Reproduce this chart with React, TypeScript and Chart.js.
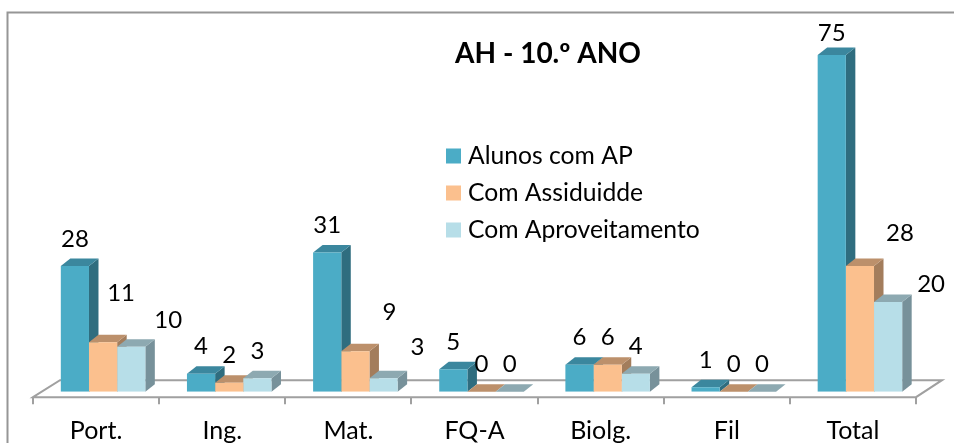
import React, { useEffect, useRef } from "react";
import { Chart, registerables } from "chart.js";

Chart.register(...registerables);

const categories = ["Port.", "Ing.", "Mat.", "FQ-A", "Biolg.", "Fil", "Total"];
const alunosComAP = [28, 4, 31, 5, 6, 1, 75];
const comAssiduidade = [11, 2, 9, 0, 6, 0, 28];
const comAproveitamento = [10, 3, 3, 0, 4, 0, 20];
const seriesNames = ["Alunos com AP", "Com Assiduidde", "Com Aproveitamento"];

const frontColors = ["#4BACC6", "#FBC08E", "#B7DEE8"];
const topColors = ["#3B879E", "#BC906B", "#8DA9B1"];
const sideColors = ["#2F6D7F", "#A37D5C", "#77919A"];

// Hand-placed data label nudges (px, relative to default spot above each bar)
const labelShiftX = [
  [0, 0, 0, 0, 0, 0, 0],
  [18, 0, 34, 0, 0, 0, 40],
  [37, 0, 34, 0, 0, 0, 43],
];
const labelShiftY = [
  [0, 0, 0, 0, 0, 0, 5],
  [-22, 0, -12, 0, 0, 0, -6],
  [0, 0, -4, 0, 0, 0, 9],
];

const FONT = "Lato, Carlito, sans-serif";
const DX = 9.5;
const DY = 7.5;
const AXIS = "#A0A0A0";

const decor = {
  id: "decor",
  beforeDatasetsDraw(chart: any) {
    const { ctx, scales } = chart;
    const x = scales.x;
    const base = scales.y.getPixelForValue(0);
    const catW = x.width / categories.length;
    const left = x.left - 7;
    const right = left + catW * categories.length;
    const front = base + 5.5;
    const back = base - 11.5;
    ctx.save();

    // frame
    ctx.strokeStyle = "#969696";
    ctx.lineWidth = 2;
    ctx.beginPath();
    ctx.moveTo(7.5, 443);
    ctx.lineTo(7.5, 12.5);
    ctx.lineTo(954, 12.5);
    ctx.stroke();

    // 3-D floor
    ctx.strokeStyle = AXIS;
    ctx.lineWidth = 2;
    ctx.beginPath();
    ctx.moveTo(left, front);
    ctx.lineTo(left + 27, back);
    ctx.lineTo(right + 26, back);
    ctx.lineTo(right, front);
    ctx.closePath();
    ctx.stroke();
    ctx.beginPath();
    for (let i = 0; i <= categories.length; i++) {
      const tx = Math.round(left + i * catW);
      ctx.moveTo(tx, front);
      ctx.lineTo(tx, front + 7);
    }
    ctx.stroke();

    // depth faces
    categories.forEach((_, c) => {
      chart.data.datasets.forEach((_d: any, d: number) => {
        const bar = chart.getDatasetMeta(d).data[c];
        const hw = bar.width / 2;
        const x1 = bar.x - hw;
        const x2 = bar.x + hw;
        const top = bar.y;
        ctx.fillStyle = sideColors[d];
        ctx.beginPath();
        ctx.moveTo(x2, top);
        ctx.lineTo(x2 + DX, top - DY);
        ctx.lineTo(x2 + DX, base - DY);
        ctx.lineTo(x2, base);
        ctx.closePath();
        ctx.fill();
        ctx.fillStyle = topColors[d];
        ctx.beginPath();
        ctx.moveTo(x1, top);
        ctx.lineTo(x1 + DX, top - DY);
        ctx.lineTo(x2 + DX, top - DY);
        ctx.lineTo(x2, top);
        ctx.closePath();
        ctx.fill();
      });
    });
    ctx.restore();
  },
  afterDatasetsDraw(chart: any) {
    const { ctx } = chart;
    ctx.save();
    ctx.fillStyle = "#000000";
    ctx.textAlign = "center";
    ctx.textBaseline = "middle";

    // data labels
    ctx.font = `24px ${FONT}`;
    chart.data.datasets.forEach((ds: any, d: number) => {
      chart.getDatasetMeta(d).data.forEach((bar: any, c: number) => {
        const lx = bar.x + labelShiftX[d][c];
        const ly = bar.y - 27 + labelShiftY[d][c];
        ctx.fillText(String(ds.data[c]), lx, ly);
      });
    });

    // title
    ctx.font = `bold 28px ${FONT}`;
    ctx.fillText("AH - 10.º ANO", 548, 54);

    // legend
    ctx.font = `24.7px ${FONT}`;
    ctx.textAlign = "left";
    chart.data.datasets.forEach((ds: any, d: number) => {
      const cy = 156 + d * 37;
      ctx.fillStyle = frontColors[d];
      ctx.fillRect(446, cy - 7.5, 15, 15);
      ctx.fillStyle = "#000000";
      ctx.fillText(ds.label, 468, cy);
    });
    ctx.restore();
  },
};

export default function App() {
  const ref = useRef<HTMLCanvasElement>(null);
  useEffect(() => {
    const data = [alunosComAP, comAssiduidade, comAproveitamento];
    const chart = new Chart(ref.current as HTMLCanvasElement, {
      type: "bar",
      data: {
        labels: categories,
        datasets: data.map((values, i) => ({
          label: seriesNames[i],
          data: values,
          backgroundColor: frontColors[i],
          borderWidth: 0,
          categoryPercentage: 0.67,
          barPercentage: 1,
        })),
      },
      options: {
        responsive: false,
        animation: false,
        layout: { padding: { left: 40, right: 31, top: 32.5, bottom: 0 } },
        plugins: { legend: { display: false }, title: { display: false }, tooltip: { enabled: false } },
        scales: {
          x: {
            grid: { display: false },
            border: { display: false },
            afterFit: (s: any) => { s.height = 51.3; },
            ticks: {
              maxRotation: 0,
              labelOffset: -7,
              padding: 16,
              color: "#000000",
              font: { family: FONT, size: 25 },
            },
          },
          y: { display: false, min: 0, max: 80 },
        },
      },
      plugins: [decor],
    } as any);
    return () => chart.destroy();
  }, []);
  return (
    <div style={{ position: "fixed", left: 0, top: 0, width: 954, height: 443, background: "#fff" }}>
      <canvas ref={ref} width={954} height={443} style={{ display: "block", width: 954, height: 443 }} />
    </div>
  );
}
